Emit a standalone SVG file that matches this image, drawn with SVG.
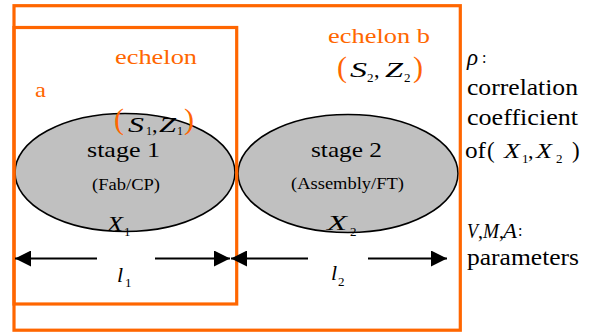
<svg xmlns="http://www.w3.org/2000/svg" width="593" height="332" viewBox="0 0 593 332" font-family="Liberation Serif, serif">
<defs>
<style>
svg text, g text, text { font-family: "Liberation Serif", "Times New Roman", serif !important; }
.or { fill: #FF6600; }
.it { font-style: italic; }
.box { fill: none; stroke: #FF6600; stroke-width: 3.2; }
.stage { fill: #C0C0C0; stroke: #000; stroke-width: 1.6; }
.dim { stroke: #000; stroke-width: 2; fill: none; }
</style>
<marker id="ah" viewBox="0 0 16 16" refX="16" refY="8" markerWidth="16" markerHeight="16" markerUnits="userSpaceOnUse" orient="auto">
<path d="M0,0 L16,8 L0,16 z" fill="#000"/>
</marker>
</defs>
<rect width="593" height="332" fill="#fff"/>

<g id="stage1">
<ellipse class="stage" cx="125" cy="172.5" rx="110" ry="59"/>
<text style="font-family:'Liberation Serif',serif" font-family="Liberation Serif" font-size="21" x="123.5" y="157" text-anchor="middle" textLength="73" lengthAdjust="spacingAndGlyphs">stage 1</text>
<text style="font-family:'Liberation Serif',serif" font-family="Liberation Serif" font-size="16" x="126" y="190" text-anchor="middle" textLength="68" lengthAdjust="spacingAndGlyphs">(Fab/CP)</text>
<text style="font-family:'Liberation Serif',serif" font-family="Liberation Serif" class="it" font-size="21" x="107" y="231" textLength="16" lengthAdjust="spacingAndGlyphs">X</text>
<text style="font-family:'Liberation Serif',serif" font-family="Liberation Serif" font-size="13" x="124" y="236">1</text>
</g>

<g id="stage2">
<ellipse class="stage" cx="348" cy="173.5" rx="110" ry="59"/>
<text style="font-family:'Liberation Serif',serif" font-family="Liberation Serif" font-size="21" x="346.5" y="157" text-anchor="middle" textLength="71" lengthAdjust="spacingAndGlyphs">stage 2</text>
<text style="font-family:'Liberation Serif',serif" font-family="Liberation Serif" font-size="16" x="347.5" y="189" text-anchor="middle" textLength="113" lengthAdjust="spacingAndGlyphs">(Assembly/FT)</text>
<text style="font-family:'Liberation Serif',serif" font-family="Liberation Serif" class="it" font-size="21" x="327" y="230" textLength="20" lengthAdjust="spacingAndGlyphs">X</text>
<text style="font-family:'Liberation Serif',serif" font-family="Liberation Serif" font-size="13" x="350" y="236">2</text>
</g>

<g id="echelon-a">
<rect class="box" x="14" y="27.5" width="222.7" height="276.5"/>
<text style="font-family:'Liberation Serif',serif" font-family="Liberation Serif" class="or" font-size="22" x="115" y="64" textLength="82" lengthAdjust="spacingAndGlyphs">echelon</text>
<text style="font-family:'Liberation Serif',serif" font-family="Liberation Serif" class="or" font-size="22" x="35" y="97" textLength="11" lengthAdjust="spacingAndGlyphs">a</text>
<text style="font-family:'Liberation Serif',serif" font-family="Liberation Serif" class="or" font-size="30" x="114" y="129">(</text>
<text style="font-family:'Liberation Serif',serif" font-family="Liberation Serif" class="it" font-size="22" x="128" y="132" textLength="16" lengthAdjust="spacingAndGlyphs">S</text>
<text style="font-family:'Liberation Serif',serif" font-family="Liberation Serif" font-size="12" x="146" y="135">1</text>
<text style="font-family:'Liberation Serif',serif" font-family="Liberation Serif" font-size="22" x="152" y="132">,</text>
<text style="font-family:'Liberation Serif',serif" font-family="Liberation Serif" class="it" font-size="22" x="159" y="132" textLength="17" lengthAdjust="spacingAndGlyphs">Z</text>
<text style="font-family:'Liberation Serif',serif" font-family="Liberation Serif" font-size="12" x="177" y="135">1</text>
<text style="font-family:'Liberation Serif',serif" font-family="Liberation Serif" class="or" font-size="30" x="184" y="129">)</text>
</g>

<g id="echelon-b">
<rect class="box" x="14" y="5.7" width="446.3" height="324.5"/>
<text style="font-family:'Liberation Serif',serif" font-family="Liberation Serif" class="or" font-size="22" x="328" y="43" textLength="102" lengthAdjust="spacingAndGlyphs">echelon b</text>
<text style="font-family:'Liberation Serif',serif" font-family="Liberation Serif" class="or" font-size="30" x="337" y="77">(</text>
<text style="font-family:'Liberation Serif',serif" font-family="Liberation Serif" class="it" font-size="22" x="350" y="77" textLength="17" lengthAdjust="spacingAndGlyphs">S</text>
<text style="font-family:'Liberation Serif',serif" font-family="Liberation Serif" font-size="13" x="367" y="82">2</text>
<text style="font-family:'Liberation Serif',serif" font-family="Liberation Serif" font-size="22" x="374" y="77">,</text>
<text style="font-family:'Liberation Serif',serif" font-family="Liberation Serif" class="it" font-size="22" x="385" y="77" textLength="18" lengthAdjust="spacingAndGlyphs">Z</text>
<text style="font-family:'Liberation Serif',serif" font-family="Liberation Serif" font-size="13" x="404" y="82">2</text>
<text style="font-family:'Liberation Serif',serif" font-family="Liberation Serif" class="or" font-size="30" x="413" y="77">)</text>
</g>

<g id="connectors">
<line class="dim" x1="97" y1="258.5" x2="15" y2="258.5" marker-end="url(#ah)"/>
<line class="dim" x1="155" y1="258.5" x2="230" y2="258.5" marker-end="url(#ah)"/>
<line class="dim" x1="308" y1="258.5" x2="231" y2="258.5" marker-end="url(#ah)"/>
<line class="dim" x1="368" y1="258.5" x2="447" y2="258.5" marker-end="url(#ah)"/>
</g>

<g id="dim-labels">
<text style="font-family:'Liberation Serif',serif" font-family="Liberation Serif" class="it" font-size="22" x="117" y="282">l</text>
<text style="font-family:'Liberation Serif',serif" font-family="Liberation Serif" font-size="13" x="125" y="287">1</text>
<text style="font-family:'Liberation Serif',serif" font-family="Liberation Serif" class="it" font-size="22" x="331" y="280">l</text>
<text style="font-family:'Liberation Serif',serif" font-family="Liberation Serif" font-size="13" x="338" y="286">2</text>
</g>

<g id="legend">
<text style="font-family:'Liberation Serif',serif" font-family="Liberation Serif" class="it" font-size="23" x="467" y="65">ρ</text>
<text style="font-family:'Liberation Serif',serif" font-family="Liberation Serif" font-size="16" x="482" y="63">:</text>
<text style="font-family:'Liberation Serif',serif" font-family="Liberation Serif" font-size="23" x="467" y="95" textLength="111" lengthAdjust="spacingAndGlyphs">correlation</text>
<text style="font-family:'Liberation Serif',serif" font-family="Liberation Serif" font-size="23" x="467" y="125" textLength="111" lengthAdjust="spacingAndGlyphs">coefficient</text>
<text style="font-family:'Liberation Serif',serif" font-family="Liberation Serif" font-size="23" x="465" y="158" textLength="21" lengthAdjust="spacingAndGlyphs">of</text>
<text style="font-family:'Liberation Serif',serif" font-family="Liberation Serif" font-size="23" x="487" y="158">(</text>
<text style="font-family:'Liberation Serif',serif" font-family="Liberation Serif" class="it" font-size="22" x="504" y="158" textLength="16" lengthAdjust="spacingAndGlyphs">X</text>
<text style="font-family:'Liberation Serif',serif" font-family="Liberation Serif" font-size="13" x="522" y="163">1</text>
<text style="font-family:'Liberation Serif',serif" font-family="Liberation Serif" font-size="22" x="528" y="158">,</text>
<text style="font-family:'Liberation Serif',serif" font-family="Liberation Serif" class="it" font-size="22" x="536" y="158" textLength="16" lengthAdjust="spacingAndGlyphs">X</text>
<text style="font-family:'Liberation Serif',serif" font-family="Liberation Serif" font-size="13" x="556" y="163">2</text>
<text style="font-family:'Liberation Serif',serif" font-family="Liberation Serif" font-size="23" x="572" y="158">)</text>
<text style="font-family:'Liberation Serif',serif" font-family="Liberation Serif" class="it" font-size="20" x="467" y="238" textLength="11" lengthAdjust="spacingAndGlyphs">V</text>
<text style="font-family:'Liberation Serif',serif" font-family="Liberation Serif" font-size="20" x="478" y="238">,</text>
<text style="font-family:'Liberation Serif',serif" font-family="Liberation Serif" class="it" font-size="20" x="483" y="238" textLength="16" lengthAdjust="spacingAndGlyphs">M</text>
<text style="font-family:'Liberation Serif',serif" font-family="Liberation Serif" font-size="20" x="499" y="238">,</text>
<text style="font-family:'Liberation Serif',serif" font-family="Liberation Serif" class="it" font-size="20" x="503" y="238" textLength="14" lengthAdjust="spacingAndGlyphs">A</text>
<text style="font-family:'Liberation Serif',serif" font-family="Liberation Serif" font-size="16" x="518" y="236">:</text>
<text style="font-family:'Liberation Serif',serif" font-family="Liberation Serif" font-size="23" x="467" y="265" textLength="112" lengthAdjust="spacingAndGlyphs">parameters</text>
</g>
</svg>
